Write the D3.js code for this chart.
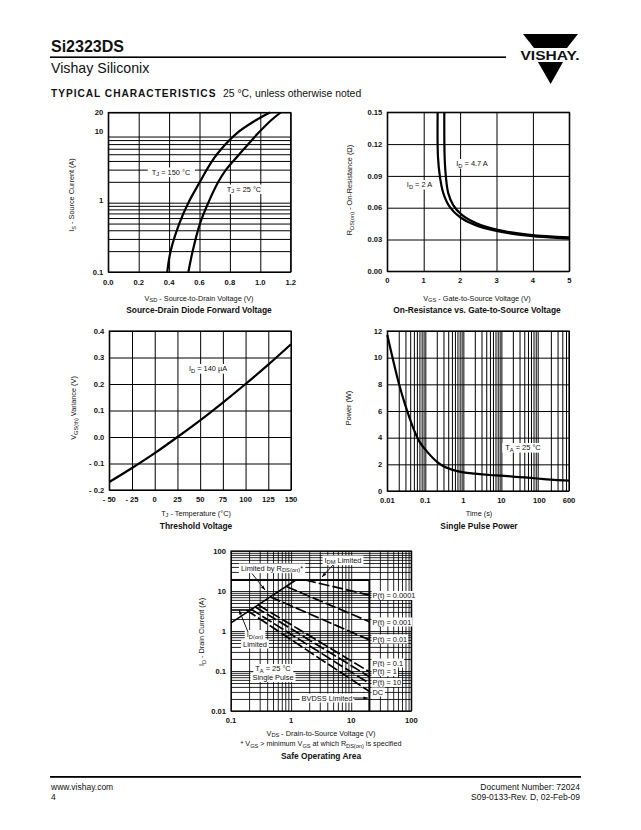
<!DOCTYPE html>
<html>
<head>
<meta charset="utf-8">
<script src="https://cdnjs.cloudflare.com/ajax/libs/d3/7.8.5/d3.min.js"></script>
<style>
body { margin: 0; background: #fff; }
text { font-family: "Liberation Sans", Arial, sans-serif; fill: #111; }
</style>
</head>
<body>
<div id="page"></div>
<script>
// source-drain diode
var diodeCurrent = [0.1, 0.2, 0.5, 1, 2, 3, 5, 10, 15.7, 20];
var diodeV150 = [0.388, 0.41, 0.467, 0.527, 0.603, 0.648, 0.715, 0.845, 0.976, 1.064];
var diodeV25 = [0.527, 0.555, 0.603, 0.658, 0.724, 0.775, 0.862, 0.985, 1.075, 1.134];
var diodeXTicks = [0, 0.2, 0.4, 0.6, 0.8, 1.0, 1.2];

// on-resistance
var rdsVgs2A = [1.383, 1.392, 1.447, 1.54, 1.72, 2.0, 2.36, 3.0, 3.92, 5];
var rdsVgs47A = [1.566, 1.575, 1.61, 1.676, 1.81, 2.04, 2.45, 3.0, 3.92, 5];
var rds2A = [0.15, 0.108, 0.089, 0.0735, 0.0605, 0.051, 0.0445, 0.038, 0.0333, 0.0308];
var rds47A = [0.15, 0.108, 0.089, 0.0735, 0.0625, 0.0535, 0.0453, 0.0393, 0.0343, 0.032];
var rdsXTicks = [0, 1, 2, 3, 4, 5];
var rdsYTicks = [0, 0.03, 0.06, 0.09, 0.12, 0.15];

// threshold voltage
var tempC = [-50, -25, 0, 25, 50, 75, 100, 125, 150];
var vgsVariance = [-0.17, -0.117, -0.061, 0, 0.063, 0.13, 0.2, 0.273, 0.35];
var thresholdYTicks = [-0.2, -0.1, 0, 0.1, 0.2, 0.3, 0.4];

// single pulse power
var pulseTime = [0.01, 0.02, 0.03, 0.05, 0.07, 0.1, 0.2, 0.3, 0.5, 1, 2, 5, 10, 20, 50, 100, 200, 600];
var pulsePower = [11.7, 8.1, 6.4, 4.6, 3.7, 3.1, 2.2, 1.85, 1.6, 1.4, 1.3, 1.2, 1.15, 1.08, 1.0, 0.92, 0.85, 0.78];
var pulseXTicks = [0.01, 0.1, 1, 10, 100, 600];
var pulseYTicks = [0, 2, 4, 6, 8, 10, 12];

// safe operating area: each dashed line runs from [v0, i0] to [vEnd, i1]
var soaNames = ["P(t) = 0.0001", "P(t) = 0.001", "P(t) = 0.01", "P(t) = 0.1", "P(t) = 1", "P(t) = 10", "DC"];
var soaV0 = [1.71, 0.85, 0.447, 0.285, 0.25, 0.21, 0.18];
var soaI0 = [18.8, 12.8, 7.2, 4.47, 4.06, 3.6, 3.35];
var soaI1 = [7.9, 1.71, 0.6, 0.096, 0.072, 0.049, 0.031];
var soaVEnd = 20;
var idmLimit = 18.8;
var idOnLimit = 3.35;
var idOnVEnd = 0.235;
var rdsLimitV = [0.1, 1.2];
var rdsLimitI = [1.6, 18.8];

var svg = d3.select("#page").append("svg").attr("width", 641).attr("height", 830);

// parts starting with _ are set as subscripts
function rich(g, x, y, parts, size, weight, anchor) {
  var t = g.append("text").attr("x", x).attr("y", y)
    .attr("font-size", size).attr("font-weight", weight || "normal")
    .attr("text-anchor", anchor || "middle");
  var shift = 0;
  parts.forEach(function(p) {
    var sub = p[0] == "_";
    var target = sub ? size * 0.22 : 0;
    t.append("tspan").attr("dy", target - shift)
      .attr("font-size", sub ? size * 0.78 : size)
      .text(sub ? p.slice(1) : p);
    shift = target;
  });
  return t;
}

function whiteBack(g, t, padX, padY) {
  var b = t.node().getBBox();
  g.insert("rect", function() { return t.node(); })
    .attr("x", b.x - padX).attr("y", b.y - padY)
    .attr("width", b.width + 2 * padX).attr("height", b.height + 2 * padY)
    .attr("fill", "#fff");
}

function label(g, x, y, parts, padX, anchor) {
  var t = rich(g, x, y, parts, 7.4, "normal", anchor);
  whiteBack(g, t, padX === undefined ? 2 : padX, 0);
}

function plot(o) {
  var g = svg.append("g");
  var w = o.right - o.left, h = o.bottom - o.top;
  g.append("g").attr("transform", "translate(0," + o.bottom + ")")
    .call(d3.axisBottom(o.x).tickValues(o.xGrid).tickSize(-h).tickFormat(""));
  g.append("g").attr("transform", "translate(" + o.left + ",0)")
    .call(d3.axisLeft(o.y).tickValues(o.yGrid).tickSize(-w).tickFormat(""));
  g.selectAll(".domain").remove();
  g.selectAll(".tick line").attr("stroke", "#000").attr("stroke-width", o.gridW || 1);
  g.selectAll(".tick text").remove();
  g.append("rect").attr("x", o.left).attr("y", o.top).attr("width", w).attr("height", h)
    .attr("fill", "none").attr("stroke", "#000").attr("stroke-width", 1.2);

  o.xTicks.forEach(function(d, i) {
    rich(g, o.x(d), o.xLabelY, [o.xFmt(d, i)], 7.6, "600");
  });
  o.yTicks.forEach(function(d, i) {
    var lift = o.yLift ? o.yLift(d) : 0;
    rich(g, o.left - (o.yPad || 5), o.y(d) + 2.6 - lift, [o.yFmt(d, i)], 7.6, "600", "end");
  });
  rich(g, o.cx, o.xTitleY, o.xTitle, 7.3);
  rich(g, 0, 0, o.yTitle, 7.3)
    .attr("transform", "translate(" + o.yTitleX + "," + o.yTitleCy + ") rotate(-90)");
  rich(g, o.cx, o.titleY, [o.title], 8.4, "bold");
  return g;
}

function drawLine(g, x, y, xs, ys, width) {
  var line = d3.line().x(function(d) { return x(d[0]); }).y(function(d) { return y(d[1]); })
    .curve(d3.curveCatmullRom.alpha(0.5));
  return g.append("path").datum(d3.zip(xs, ys)).attr("d", line)
    .attr("fill", "none").attr("stroke", "#000").attr("stroke-width", width || 2.2);
}

function logMinor(lo, hi) {
  var out = [];
  for (var dec = lo; dec < hi; dec *= 10) {
    for (var k = 1; k < 10; k++) out.push(dec * k);
  }
  return out;
}

// header
rich(svg, 51, 52, ["Si2323DS"], 16, "bold", "start");
svg.append("rect").attr("x", 50).attr("y", 56.4).attr("width", 456).attr("height", 1.6).attr("fill", "#000");
rich(svg, 51, 73, ["Vishay Siliconix"], 14.2, "normal", "start");
rich(svg, 51, 97, ["TYPICAL CHARACTERISTICS"], 10.2, "bold", "start").attr("letter-spacing", 0.95);
rich(svg, 223, 97, ["25 °C, unless otherwise noted"], 10.4, "normal", "start");
svg.append("path").attr("d", "M523 34H578L567 48H534Z").attr("fill", "#000");
svg.append("path").attr("d", "M538 62H563L550.6 84Z").attr("fill", "#000");
rich(svg, 550, 60, ["VISHAY."], 13.4, "bold")
  .attr("textLength", 59).attr("lengthAdjust", "spacingAndGlyphs");

// footer
svg.append("rect").attr("x", 50).attr("y", 776).attr("width", 531).attr("height", 1.8).attr("fill", "#000");
rich(svg, 51, 790, ["www.vishay.com"], 8.5, "normal", "start");
rich(svg, 51, 799.5, ["4"], 8.5, "normal", "start");
rich(svg, 580, 790, ["Document Number: 72024"], 8.5, "normal", "end");
rich(svg, 580, 799.5, ["S09-0133-Rev. D, 02-Feb-09"], 8.5, "normal", "end");

// diode forward voltage
var x1 = d3.scaleLinear().domain([0, 1.2]).range([108.3, 290.7]);
var y1 = d3.scaleLog().domain([0.1, 20]).range([272, 112.5]);
var g1 = plot({
  x: x1, y: y1, left: 108.3, right: 290.7, top: 112.5, bottom: 272,
  xGrid: diodeXTicks, yGrid: logMinor(0.1, 10).concat([20]),
  xTicks: diodeXTicks, yTicks: [0.1, 1, 10, 20],
  xFmt: d3.format(".1f"), yFmt: function(d) { return String(d); },
  yLift: function(d) { return d == 1 || d == 10 ? 2 : 0; },
  xLabelY: 285, xTitleY: 300.5, titleY: 313, cx: 199,
  xTitle: ["V", "_SD", " - Source-to-Drain Voltage (V)"],
  yTitle: ["I", "_S", " - Source Current (A)"], yTitleX: 74, yTitleCy: 195,
  title: "Source-Drain Diode Forward Voltage"
});
drawLine(g1, x1, y1, diodeV150, diodeCurrent);
drawLine(g1, x1, y1, diodeV25, diodeCurrent);
label(g1, 171, 174.5, ["T", "_J", " = 150 °C"], 4);
label(g1, 244, 191.5, ["T", "_J", " = 25 °C"], 2);

// on-resistance
var x2 = d3.scaleLinear().domain([0, 5]).range([387.3, 569.3]);
var y2 = d3.scaleLinear().domain([0, 0.15]).range([271.3, 112.3]);
var g2 = plot({
  x: x2, y: y2, left: 387.3, right: 569.3, top: 112.3, bottom: 271.3,
  xGrid: rdsXTicks, yGrid: rdsYTicks,
  xTicks: rdsXTicks, yTicks: rdsYTicks,
  xFmt: String, yFmt: d3.format(".2f"),
  xLabelY: 283, xTitleY: 300.5, titleY: 313, cx: 477,
  xTitle: ["V", "_GS", " - Gate-to-Source Voltage (V)"],
  yTitle: ["R", "_DS(on)", " - On-Resistance (Ω)"], yTitleX: 352, yTitleCy: 190,
  title: "On-Resistance vs. Gate-to-Source Voltage"
});
drawLine(g2, x2, y2, rdsVgs2A, rds2A);
drawLine(g2, x2, y2, rdsVgs47A, rds47A);
label(g2, 472, 166, ["I", "_D", " = 4.7 A"], 3);
label(g2, 419.5, 187, ["I", "_D", " =  2 A"], 3);

// threshold voltage
var x3 = d3.scaleLinear().domain([-50, 150]).range([109.3, 291]);
var y3 = d3.scaleLinear().domain([-0.2, 0.4]).range([490, 331]);
var g3 = plot({
  x: x3, y: y3, left: 109.3, right: 291, top: 331, bottom: 490,
  xGrid: tempC, yGrid: thresholdYTicks,
  xTicks: tempC, yTicks: thresholdYTicks,
  xFmt: function(d) { return d < 0 ? "- " + (-d) : String(d); },
  yFmt: function(d) { return d < 0 ? "- " + d3.format(".1f")(-d) : d3.format(".1f")(d); },
  xLabelY: 502, xTitleY: 515.5, titleY: 528.5, cx: 196,
  xTitle: ["T", "_J", " - Temperature (°C)"],
  yTitle: ["V", "_GS(th)", "  Variance (V)"], yTitleX: 76, yTitleCy: 408,
  title: "Threshold Voltage"
});
drawLine(g3, x3, y3, tempC, vgsVariance);
label(g3, 208, 371, ["I", "_D", " = 140 µA"], 4);

// single pulse power
var x4 = d3.scaleLog().domain([0.01, 600]).range([387.3, 569]);
var y4 = d3.scaleLinear().domain([0, 12]).range([491, 331]);
var g4 = plot({
  x: x4, y: y4, left: 387.3, right: 569, top: 331, bottom: 491,
  xGrid: logMinor(0.01, 100).concat([200, 300, 400, 500, 600]), yGrid: pulseYTicks,
  xTicks: pulseXTicks, yTicks: pulseYTicks,
  xFmt: String, yFmt: String,
  xLabelY: 503, xTitleY: 516, titleY: 528.5, cx: 479,
  xTitle: ["Time (s)"],
  yTitle: ["Power  (W)"], yTitleX: 351, yTitleCy: 408,
  title: "Single Pulse Power"
});
drawLine(g4, x4, y4, pulseTime, pulsePower);
label(g4, 523, 450, ["T", "_A", " = 25 °C"], 3);

// safe operating area
var x5 = d3.scaleLog().domain([0.1, 100]).range([231, 411.3]);
var y5 = d3.scaleLog().domain([0.01, 100]).range([711, 551]);
var g5 = plot({
  x: x5, y: y5, left: 231, right: 411.3, top: 551, bottom: 711,
  xGrid: logMinor(0.1, 100).concat([100]), yGrid: logMinor(0.01, 100).concat([100]),
  xTicks: [0.1, 1, 10, 100], yTicks: [0.01, 0.1, 1, 10, 100],
  xFmt: String, yFmt: String,
  xLabelY: 723, xTitleY: 735.5, titleY: 759, cx: 321,
  xTitle: ["V", "_DS", " - Drain-to-Source Voltage (V)"],
  yTitle: ["I", "_D", " - Drain Current (A)"], yTitleX: 204, yTitleCy: 632,
  title: "Safe Operating Area", gridW: 0.85
});
rich(g5, 321, 746, ["* V", "_GS", " >  minimum V", "_GS", " at which R", "_DS(on)", " is specified"], 7.2);

var straight = d3.line().x(function(d) { return x5(d[0]); }).y(function(d) { return y5(d[1]); });
function soaPath(pts, width, dash) {
  g5.append("path").attr("d", straight(pts)).attr("fill", "none").attr("stroke", "#000")
    .attr("stroke-width", width).attr("stroke-dasharray", dash || null);
}
soaPath([[x5.domain()[0], idmLimit], [soaVEnd, idmLimit], [soaVEnd, y5.domain()[0]]], 1.8);
soaPath([[x5.domain()[0], idOnLimit], [idOnVEnd, idOnLimit]], 1.6);
soaPath(d3.zip(rdsLimitV, rdsLimitI), 1.6);
soaNames.forEach(function(name, i) {
  soaPath([[soaV0[i], soaI0[i]], [soaVEnd, soaI1[i]]], 1.7, "11,3");
});

var soaLabelY = [598, 624.5, 641.5, 665.5, 674, 685, 694.5];
soaNames.forEach(function(name, i) {
  label(g5, 372.5, soaLabelY[i], [name], 1, "start");
});

function arrow(g, x0, y0, x1, y1) {
  g.append("line").attr("x1", x0).attr("y1", y0).attr("x2", x1).attr("y2", y1)
    .attr("stroke", "#000").attr("stroke-width", 0.9);
  var a = Math.atan2(y1 - y0, x1 - x0), s = 4.5, b = 1.6;
  var pts = [[x1, y1],
    [x1 - s * Math.cos(a) + b * Math.sin(a), y1 - s * Math.sin(a) - b * Math.cos(a)],
    [x1 - s * Math.cos(a) - b * Math.sin(a), y1 - s * Math.sin(a) + b * Math.cos(a)]];
  g.append("polygon").attr("points", pts.join(" ")).attr("fill", "#000");
}
label(g5, 272, 570.5, ["Limited by R", "_DS(on)", "*"], 2);
label(g5, 343, 562.5, ["I", "_DM", "  Limited"], 2);
label(g5, 255, 637, ["I", "_D(on)"], 2);
label(g5, 255, 646.5, ["Limited"], 2);
label(g5, 273, 671, ["T", "_A", " = 25 °C"], 2);
label(g5, 273, 680, ["Single  Pulse"], 2);
label(g5, 327, 700.5, ["BVDSS Limited"], 2);
arrow(g5, 252, 573.5, 265, 590);
arrow(g5, 333, 565, 322, 577);
arrow(g5, 248, 632, 239, 610);
arrow(g5, 353, 698, 368, 698);
</script>
</body>
</html>
